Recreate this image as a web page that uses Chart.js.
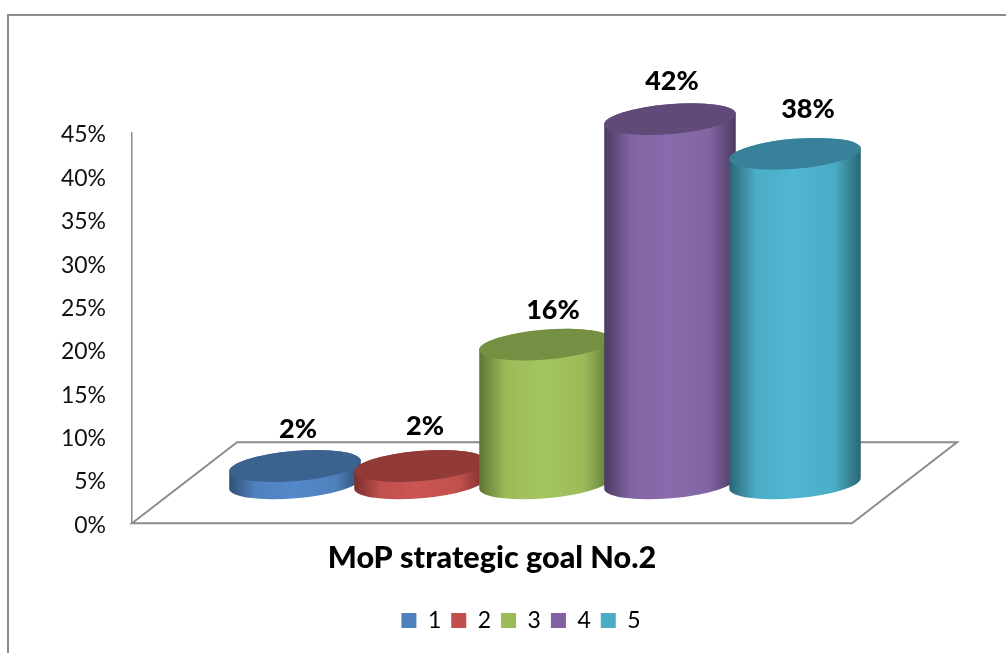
<!DOCTYPE html>
<html>
<head>
<meta charset="utf-8">
<style>
  html, body { margin: 0; padding: 0; background: #fff; overflow: hidden; }
  canvas { display: block; }
</style>
<script src="https://cdn.jsdelivr.net/npm/chart.js@4"></script>
</head>
<body>
<canvas id="myChart" width="1006" height="653"></canvas>
<script>
const categories = ['1', '2', '3', '4', '5'];
const goalValues = [2, 2, 16, 42, 38];
const valueTicks = [0, 5, 10, 15, 20, 25, 30, 35, 40, 45];

const barColors = ['#4f81bd', '#c0504d', '#9bbb59', '#8064a2', '#4bacc6'];
const capColors = ['#3c6290', '#923a38', '#758f43', '#5f4a78', '#37829a'];
const edgeColors = ['#2f5078', '#7a2f2e', '#5f7536', '#4a3a60', '#2b6474'];
const brightColors = ['#5488ca', '#cc5552', '#a4c65f', '#8a6bad', '#50b6d2'];
// label nudges against the cap centre
const labelShift = [[3, -37], [5, -40], [8, -34], [2, -38], [13, -45]];

const axisGrey = '#8c8c8c';
const floorDepth = { x: 105, y: 81 };
const barFloorValue = -4.6; // the cylinders stand on the floor, not on the front edge

Chart.defaults.font.family = 'Lato';
Chart.defaults.color = '#000';

const cylinders = {
    id: 'cylinders',
    beforeDatasetDraw(chart, args) {
        const ctx = chart.ctx;
        const area = chart.chartArea;
        const tilt = -4.8 * Math.PI / 180;

        // frame, only top and left are inside the picture
        ctx.save();
        ctx.strokeStyle = axisGrey;
        ctx.lineWidth = 2;
        ctx.beginPath();
        ctx.moveTo(8, 653);
        ctx.lineTo(8, 15);
        ctx.lineTo(1006, 15);
        ctx.stroke();

        // floor
        ctx.beginPath();
        ctx.moveTo(area.left, area.bottom);
        ctx.lineTo(area.left + floorDepth.x, area.bottom - floorDepth.y);
        ctx.lineTo(area.right + floorDepth.x, area.bottom - floorDepth.y);
        ctx.lineTo(area.right, area.bottom);
        ctx.closePath();
        ctx.stroke();

        args.meta.data.forEach((bar, i) => {
            const a = bar.width / 2;
            const b = 15;
            const grad = ctx.createLinearGradient(bar.x - a, 0, bar.x + a, 0);
            grad.addColorStop(0, edgeColors[i]);
            grad.addColorStop(0.2, barColors[i]);
            grad.addColorStop(0.48, brightColors[i]);
            grad.addColorStop(0.8, barColors[i]);
            grad.addColorStop(1, edgeColors[i]);

            ctx.beginPath();
            ctx.ellipse(bar.x, bar.base, a, b, tilt, 0, Math.PI);
            ctx.ellipse(bar.x, bar.y, a, b, tilt, Math.PI, 2 * Math.PI);
            ctx.closePath();
            ctx.fillStyle = grad;
            ctx.fill();

            ctx.beginPath();
            ctx.ellipse(bar.x, bar.y, a, b, tilt, 0, 2 * Math.PI);
            ctx.fillStyle = capColors[i];
            ctx.fill();
        });

        ctx.fillStyle = '#000';
        ctx.font = '900 27px Lato';
        ctx.textAlign = 'center';
        ctx.textBaseline = 'middle';
        args.meta.data.forEach((bar, i) => {
            ctx.fillText(goalValues[i] + '%', bar.x + labelShift[i][0], bar.y + labelShift[i][1]);
        });
        ctx.restore();
        return false; // the plain bars are replaced by the cylinders
    },
    afterLayout(chart) {
        // legend sits right of the title in the reference
        chart.legend.left += 29;
        chart.legend.right += 29;
    }
};

const data = {
    labels: categories,
    datasets: [{
        label: 'MoP strategic goal No.2',
        data: goalValues,
        backgroundColor: barColors,
        yAxisID: 'yBars',
        barThickness: 132,
        clip: false
    }]
};

const config = {
    type: 'bar',
    data: data,
    plugins: [cylinders],
    options: {
        responsive: false,
        animation: false,
        layout: { padding: { top: 133, right: 154, left: 0, bottom: 11 } },
        scales: {
            x: { type: 'linear', display: false, offset: false, min: -0.304, max: 5.456 },
            y: {
                min: 0,
                max: 45,
                afterBuildTicks: axis => { axis.ticks = valueTicks.map(v => ({ value: v })); },
                afterFit: axis => { axis.width = 132; },
                grid: { display: false },
                border: { color: axisGrey, width: 1.5 },
                ticks: {
                    padding: 18,
                    labelOffset: 2,
                    font: { size: 23 },
                    color: '#111',
                    callback: v => v + '%'
                }
            },
            yBars: {
                axis: 'y',
                display: false,
                min: barFloorValue,
                max: 45 + barFloorValue
            }
        },
        plugins: {
            title: {
                display: true,
                position: 'bottom',
                fullSize: false,
                weight: 500,
                text: 'MoP strategic goal No.2',
                font: { size: 30.6, weight: '900' },
                padding: { top: 16, bottom: 23 }
            },
            legend: {
                position: 'bottom',
                fullSize: false,
                labels: {
                    boxWidth: 15,
                    boxHeight: 15,
                    padding: 10,
                    font: { size: 23 },
                    color: '#111',
                    generateLabels: () => categories.map((c, i) => ({
                        text: c,
                        fillStyle: barColors[i],
                        strokeStyle: barColors[i],
                        lineWidth: 0,
                        index: i
                    }))
                }
            },
            tooltip: { enabled: false }
        }
    }
};

const myChart = new Chart(document.getElementById('myChart'), config);
</script>
</body>
</html>
